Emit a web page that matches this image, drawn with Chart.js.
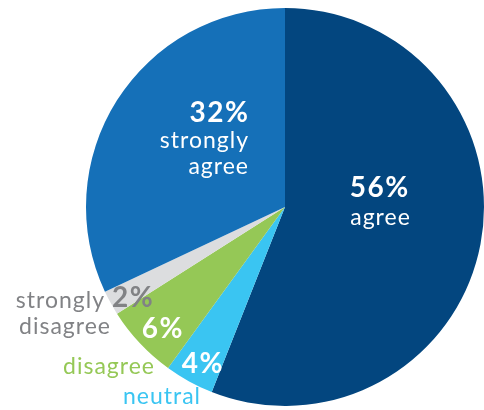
<!DOCTYPE html>
<html>
<head>
<meta charset="utf-8">
<script src="https://cdn.jsdelivr.net/npm/chart.js@4"></script>
<style>
  html, body { margin: 0; padding: 0; background: #ffffff; overflow: hidden; }
  #wrap { width: 484px; height: 410px; }
</style>
</head>
<body>
<div id="wrap"><canvas id="c" width="484" height="410"></canvas></div>
<script>
// Data (clockwise from top)
const categories = ["agree", "neutral", "disagree", "strongly disagree", "strongly agree"];
const values = [56, 4, 6, 2, 32];
const sliceColors = ["#03467F", "#3AC5F2", "#95C856", "#DCDDDF", "#1570B8"];

// Label texts
const pctLabels = ["56%", "4%", "6%", "2%", "32%"];
const nameLines = [["agree"], ["neutral"], ["disagree"], ["strongly", "disagree"], ["strongly", "agree"]];

const labelPlugin = {
  id: 'sliceLabels',
  afterDraw(chart) {
    const ctx = chart.ctx;
    const bold = "bold 28px Lato, 'Open Sans', sans-serif";
    const reg = "23px Lato, 'Open Sans', sans-serif";
    ctx.save();
    ctx.textBaseline = 'alphabetic';
    function t(str, x, y, font, color, align, sp) {
      ctx.font = font; ctx.fillStyle = color; ctx.textAlign = align;
      ctx.letterSpacing = sp + 'px';
      let dx = 0;
      if (align === 'right') dx = sp;
      else if (align === 'center') dx = sp / 2;
      ctx.fillText(str, x + dx, y);
    }
    const B = 1.5, R = 1;
    // agree
    t(pctLabels[0], 379, 197, bold, "#ffffff", "center", B);
    t(nameLines[0][0], 380, 225, reg, "#ffffff", "center", R);
    // strongly agree
    t(pctLabels[4], 248, 122, bold, "#ffffff", "right", B);
    t(nameLines[4][0], 248, 148, reg, "#ffffff", "right", R);
    t(nameLines[4][1], 248, 174, reg, "#ffffff", "right", R);
    // strongly disagree
    t(pctLabels[3], 112, 307, bold, "#818285", "left", B);
    t(nameLines[3][0], 104, 308, reg, "#818285", "right", R);
    t(nameLines[3][1], 110, 334, reg, "#818285", "right", R);
    // disagree
    t(pctLabels[2], 162, 338, bold, "#ffffff", "center", B);
    t(nameLines[2][0], 154, 374, reg, "#95C856", "right", R);
    // neutral
    t(pctLabels[1], 202, 373, bold, "#ffffff", "center", B);
    t(nameLines[1][0], 200, 404, reg, "#3AC5F2", "right", R);
    ctx.restore();
  }
};

new Chart(document.getElementById('c'), {
  type: 'pie',
  data: {
    labels: categories,
    datasets: [{
      data: values,
      backgroundColor: sliceColors,
      borderWidth: 0,
      hoverOffset: 0
    }]
  },
  options: {
    responsive: false,
    devicePixelRatio: 1,
    animation: false,
    layout: { padding: { left: 86, right: 0, top: 8, bottom: 4 } },
    plugins: { legend: { display: false }, tooltip: { enabled: false } }
  },
  plugins: [labelPlugin]
});
</script>
</body>
</html>
